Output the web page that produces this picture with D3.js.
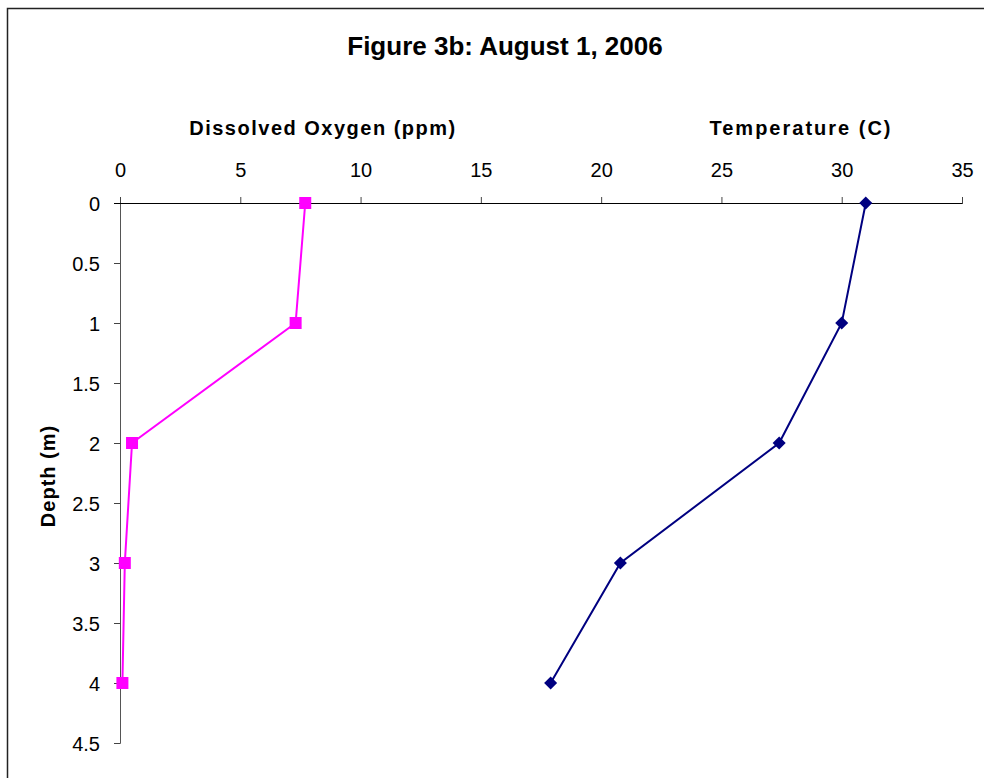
<!DOCTYPE html>
<html><head><meta charset="utf-8">
<script src="https://cdn.jsdelivr.net/npm/d3@7"></script>
<style>body{margin:0;background:#fff}svg{display:block}text{font-family:"Liberation Sans",Arial,sans-serif}</style>
</head><body>
<svg id="c" width="984" height="778"></svg>
<script>
const depths = [0, 1, 2, 3, 4];
const dissolvedOxygen = [7.7, 7.3, 0.5, 0.2, 0.1];
const temperature = [31.0, 30.0, 27.4, 20.8, 17.9];
const xTicks = [0, 5, 10, 15, 20, 25, 30, 35];
const yTicks = [0, 0.5, 1, 1.5, 2, 2.5, 3, 3.5, 4, 4.5];

const svg = d3.select("#c");
svg.append("rect").attr("x",7.5).attr("y",8.5).attr("width",1000).attr("height",800)
  .attr("fill","#fff").attr("stroke","#222").attr("stroke-width",1.5);

const x = d3.scaleLinear().domain([0,35]).range([120,962]);
const y = d3.scaleLinear().domain([0,4.5]).range([203,743]);

// y axis
const ya = svg.append("g").attr("transform","translate(120,0)")
  .call(d3.axisLeft(y).tickValues(yTicks).tickSize(6).tickPadding(14).tickFormat(d=>String(d)));
ya.select(".domain").attr("stroke","#555").attr("d","M-6,743.5H0.5V203");
ya.selectAll(".tick line").attr("stroke","#444");
ya.selectAll(".tick text").attr("font-size",20).attr("fill","#000").attr("dy","0.35em");

// x axis
const xa = svg.append("g").attr("transform","translate(0,203)")
  .call(d3.axisTop(x).tickValues(xTicks).tickSize(6).tickPadding(20).tickFormat(d=>String(d)));
xa.select(".domain").attr("stroke","#000").attr("d","M114,0.5H962.5V-6");
xa.selectAll(".tick line").attr("stroke","#444");
xa.selectAll(".tick text").attr("font-size",20).attr("fill","#000").attr("dy","0");
xa.selectAll(".tick text").attr("y",-26);

// titles
svg.append("text").attr("x",505).attr("y",55).attr("text-anchor","middle")
  .attr("font-size",26).attr("font-weight","bold").text("Figure 3b: August 1, 2006");
svg.append("text").attr("x",323).attr("y",135).attr("text-anchor","middle")
  .attr("font-size",20).attr("font-weight","bold").attr("letter-spacing","1.5px").text("Dissolved Oxygen (ppm)");
svg.append("text").attr("x",801).attr("y",135).attr("text-anchor","middle")
  .attr("font-size",20).attr("font-weight","bold").attr("letter-spacing","2px").text("Temperature (C)");
svg.append("text").attr("transform","translate(55,476) rotate(-90)").attr("text-anchor","middle")
  .attr("font-size",20).attr("font-weight","bold").attr("letter-spacing","1px").text("Depth (m)");

const line = d3.line().x(d=>x(d[0])).y(d=>y(d[1]));
const doData = depths.map((d,i)=>[dissolvedOxygen[i], d]);
const tData = depths.map((d,i)=>[temperature[i], d]);

svg.append("path").datum(doData).attr("d",line).attr("fill","none").attr("stroke","#FF00FF").attr("stroke-width",2);
svg.selectAll(".sq").data(doData).enter().append("rect")
  .attr("x",d=>x(d[0])-6).attr("y",d=>y(d[1])-6).attr("width",12).attr("height",12).attr("fill","#FF00FF");

svg.append("path").datum(tData).attr("d",line).attr("fill","none").attr("stroke","#000080").attr("stroke-width",2);
svg.selectAll(".dm").data(tData).enter().append("path")
  .attr("d", d3.symbol().type(d3.symbolSquare).size(85)).attr("fill","#000080")
  .attr("transform",d=>`translate(${x(d[0])},${y(d[1])}) rotate(45)`);
</script>
</body></html>
